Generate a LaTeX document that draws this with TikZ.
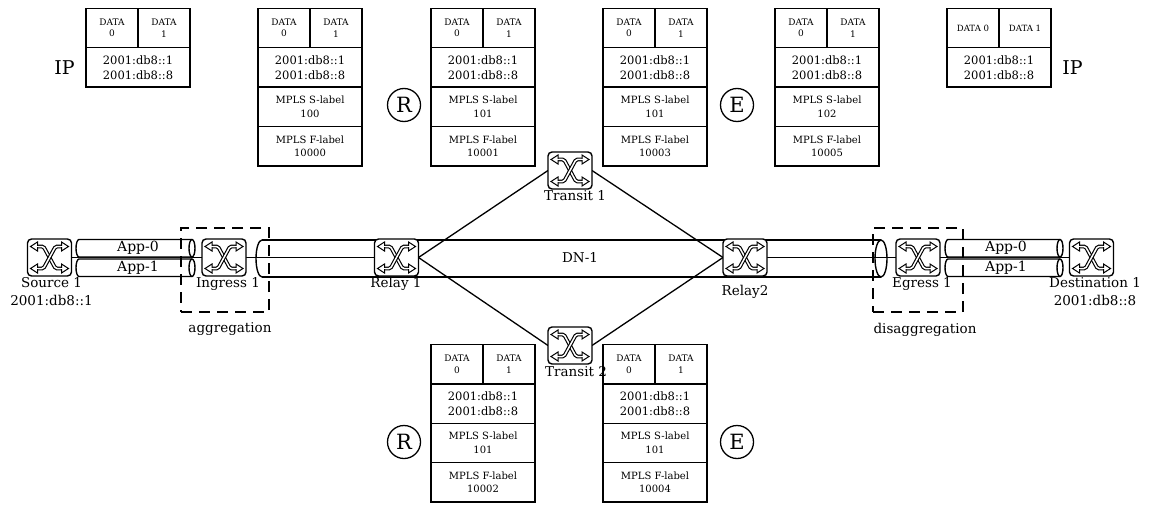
\documentclass[tikz,border=0pt]{standalone}
\usepackage{fontspec}
\setmainfont{DejaVu Serif}
\pgfdeclarelayer{bg}
\pgfsetlayers{bg,main}
\tikzset{
  cell/.style={draw, line width=1.4pt, inner sep=0pt, outer sep=0pt, minimum height=39.4pt, align=center, anchor=north west},
  datacell/.style={cell, minimum width=52pt, font=\fontsize{9}{11.5}\selectfont},
  addrcell/.style={cell, minimum width=104pt, font=\fontsize{11.5}{15}\selectfont},
  mplscell/.style={cell, minimum width=104pt, font=\fontsize{10}{13.5}\selectfont},
  switch/.style={draw, line width=1.4pt, rounded corners=4pt, fill=white, minimum width=44pt, minimum height=37pt, inner sep=0pt, outer sep=0pt},
  lbl/.style={inner sep=0pt, font=\fontsize{13.5}{18}\selectfont, align=center},
  applbl/.style={inner sep=0pt, font=\fontsize{14}{16}\selectfont},
  biglbl/.style={inner sep=0pt, font=\fontsize{19}{20}\selectfont},
  circmark/.style={circle, draw, line width=1.3pt, minimum size=33pt, inner sep=0pt, font=\fontsize{21}{22}\selectfont},
  conn/.style={line width=1.3pt},
  tubeline/.style={line width=1.4pt},
  groupbox/.style={draw, line width=2.7pt, dash pattern=on 11pt off 7pt},
  swicon/.pic={
    \draw[line width=3.8pt, rounded corners=1.5pt] (-12,11) -- (-6,11) -- (6,-11) -- (12,-11);
    \draw[line width=1.5pt, white, rounded corners=1.5pt] (-12,11) -- (-6,11) -- (6,-11) -- (12,-11);
    \draw[line width=3.8pt, rounded corners=1.5pt] (12,11) -- (6,11) -- (-6,-11) -- (-12,-11);
    \draw[line width=1.5pt, white, rounded corners=1.5pt] (12,11) -- (6,11) -- (-6,-11) -- (-12,-11);
    \foreach \sx/\sy in {1/1,1/-1,-1/1,-1/-1}{
      \filldraw[fill=white, line width=1pt, line join=miter] (\sx*19,\sy*11) -- (\sx*12,\sy*11+4.5) -- (\sx*12,\sy*11-4.5) -- cycle;
      \draw[white, line width=1.5pt] (\sx*11,\sy*11) -- (\sx*13.3,\sy*11);
    }
  }
}
\newcommand\ippkt[3]{%
  \node[datacell] (#1a) at (#2,-#3) {DATA\\0};
  \node[datacell] (#1b) at (#1a.north east) {DATA\\1};
  \node[addrcell] (#1c) at (#1a.south west) {2001:db8::1\\2001:db8::8};}
\newcommand\mplspkt[5]{%
  \ippkt{#1}{#2}{#3}
  \node[mplscell] (#1s) at (#1c.south west) {MPLS S-label\\#4};
  \node[mplscell] (#1f) at (#1s.south west) {MPLS F-label\\#5};}
\newcommand\sw[3]{%
  \node[switch] (#1) at (#2,-#3) {};
  \pic at (#1) {swicon};}
\newcommand\apptube[4]{% xl xr ytop ybot
  \pgfmathsetmacro\ry{(#4-#3)/2}
  \draw[tubeline, fill=white] (#1,-#3) -- (#2,-#3) arc[start angle=90, end angle=-90, x radius=3pt, y radius=\ry pt] -- (#1,-#4) arc[start angle=270, end angle=90, x radius=3pt, y radius=\ry pt] -- cycle;
  \draw[tubeline] (#2,-#3) arc[start angle=90, end angle=270, x radius=3pt, y radius=\ry pt];}
\begin{document}
\begin{tikzpicture}[x=1pt, y=1pt]
\useasboundingbox (0,0) rectangle (1155,-505);

% packet stacks
\ippkt{pa}{86}{8.3}
\mplspkt{pb}{258}{8.3}{100}{10000}
\mplspkt{pc}{431}{8.3}{101}{10001}
\mplspkt{pd}{603}{8.3}{101}{10003}
\mplspkt{pe}{775}{8.3}{102}{10005}
\node[datacell, font=\fontsize{8.6}{10}\selectfont] (pfa) at (947,-8.3) {DATA 0};
\node[datacell, font=\fontsize{8.6}{10}\selectfont] (pfb) at (pfa.north east) {DATA 1};
\node[addrcell] (pfc) at (pfa.south west) {2001:db8::1\\2001:db8::8};
\mplspkt{pg}{431}{344.5}{101}{10002}
\mplspkt{ph}{603}{344.5}{101}{10004}

\node[biglbl] (ipl) at (64.5,-68) {IP};
\node[biglbl] (ipr) at (1072.5,-68) {IP};
\node[circmark] (rt) at (404,-105) {R};
\node[circmark] (et) at (737,-105) {E};
\node[circmark] (rb) at (404,-442) {R};
\node[circmark] (eb) at (737,-442) {E};

% tubes
\apptube{79}{192}{239.5}{257}
\apptube{79}{192}{259}{276.5}
\apptube{948}{1060}{239.5}{257}
\apptube{948}{1060}{259}{276.5}
\draw[tubeline] (262,-240) arc[start angle=90, end angle=270, x radius=6pt, y radius=18.5pt];
\draw[tubeline] (262,-240) -- (881,-240);
\draw[tubeline] (262,-277) -- (881,-277);
\draw[tubeline] (881,-258.5) ellipse[x radius=6pt, y radius=18.5pt];

\node[applbl] (a0l) at (138,-248.25) {App-0};
\node[applbl] (a1l) at (138,-267.75) {App-1};
\node[applbl] (a0r) at (1006,-248.25) {App-0};
\node[applbl] (a1r) at (1006,-267.75) {App-1};

% switches
\sw{src}{49.5}{257.5}
\sw{ing}{224}{257.5}
\sw{r1}{396.5}{257.5}
\sw{r2}{745}{257.5}
\sw{t1}{570}{170.5}
\sw{t2}{570}{345.5}
\sw{eg}{918}{257.5}
\sw{dst}{1091.5}{257.5}

% labels
\node[lbl] (srcl) at (51.5,-292) {Source 1\\2001:db8::1};
\node[lbl] (ingl) at (228,-284) {Ingress 1};
\node[lbl] (aggl) at (230,-329) {aggregation};
\node[lbl] (r1l) at (396,-284) {Relay 1};
\node[lbl] (r2l) at (745,-292) {Relay2};
\node[lbl] (t1l) at (575,-196) {Transit 1};
\node[lbl] (t2l) at (576,-372) {Transit 2};
\node[lbl] (dn) at (580,-258) {DN-1};
\node[lbl] (egl) at (922,-284) {Egress 1};
\node[lbl] (dagl) at (925,-330) {disaggregation};
\node[lbl] (dstl) at (1095,-292) {Destination 1\\2001:db8::8};

% connectors
\begin{pgfonlayer}{bg}
\draw[conn] (src.east) -- (ing.west);
\draw[conn] (ing.east) -- (r1.west);
\draw[conn] (r2.east) -- (eg.west);
\draw[conn] (eg.east) -- (dst.west);
\draw[conn] (r1.east) -- (t1.west);
\draw[conn] (t1.east) -- (r2.west);
\draw[conn] (r1.east) -- (t2.west);
\draw[conn] (t2.east) -- (r2.west);
\end{pgfonlayer}

% grouping boxes
\node[groupbox, minimum width=88pt, minimum height=84pt, inner sep=0pt, outer sep=0pt, anchor=north west] (agg) at (181,-228) {};
\node[groupbox, minimum width=90pt, minimum height=84pt, inner sep=0pt, outer sep=0pt, anchor=north west] (dagg) at (873,-228) {};
\end{tikzpicture}
\end{document}
